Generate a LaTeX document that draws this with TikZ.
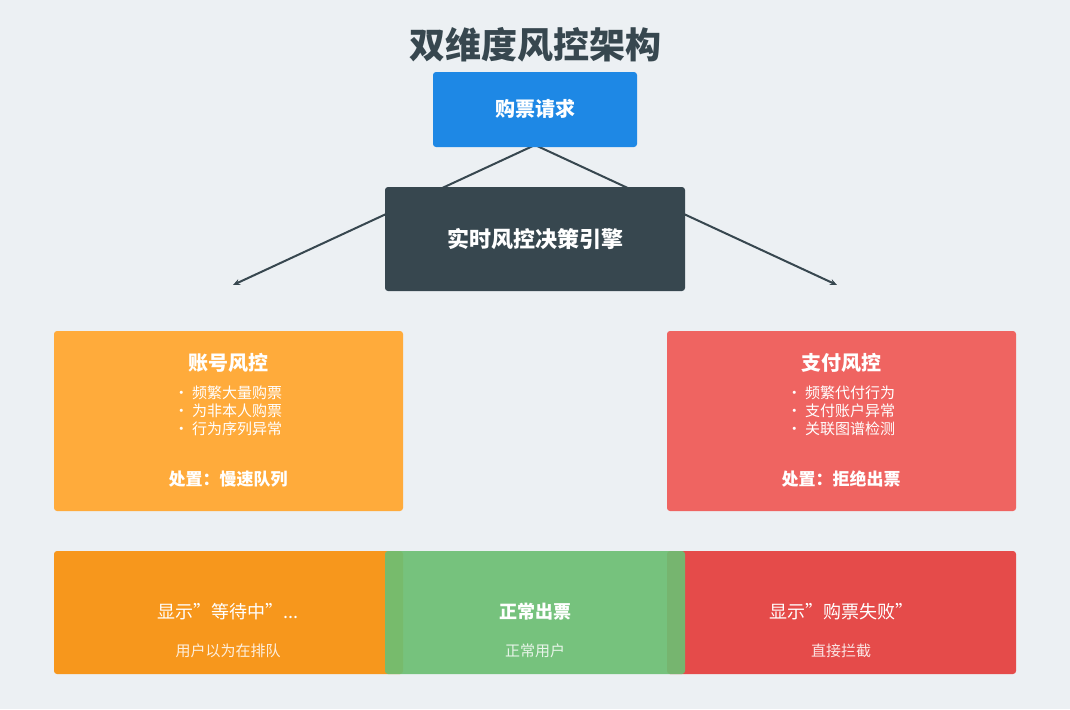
\documentclass[tikz,border=0pt]{standalone}
\usepackage{fontspec}
\setmainfont{Noto Sans CJK SC}
\usetikzlibrary{arrows.meta}
\definecolor{bg}{HTML}{ECF0F3}
\definecolor{dark}{HTML}{37474F}
\definecolor{blue1}{HTML}{1E88E5}
\definecolor{org}{HTML}{FFAB3B}
\definecolor{redl}{HTML}{EF6461}
\definecolor{org2}{HTML}{F7971C}
\definecolor{grn}{HTML}{6DBF73}
\definecolor{red2}{HTML}{E54B4A}
\begin{document}
\begin{tikzpicture}[x=1pt,y=-1pt,
  box/.style={rounded corners=3pt},
  wt/.style={text=white,font=\bfseries\fontsize{#1}{#1}\selectfont},
  lt/.style={text=white,font=\fontsize{#1}{#1}\selectfont},
  arr/.style={draw=dark,line width=2pt,-{Stealth[length=7pt,width=6pt]}}]
\fill[bg] (0,0) rectangle (1070,709);
\useasboundingbox (0,0) rectangle (1070,709);
\node[text=dark,font=\bfseries\fontsize{36}{36}\selectfont] (title) at (535,45) {双维度风控架构};
\coordinate (top) at (535,145);
\coordinate (la) at (233,285);
\coordinate (ra) at (837,285);
\draw[arr] (top) -- (la);
\draw[arr] (top) -- (ra);
\fill[box,blue1] (433,72) rectangle (637,147);
\node[wt=20] (req) at (535,109) {购票请求};
\fill[box,dark] (385,187) rectangle (685,291);
\node[wt=22] (eng) at (535,239) {实时风控决策引擎};
\fill[box,org] (54,331) rectangle (403,511);
\node[wt=20] (at) at (228,363) {账号风控};
\node[lt=15,align=center] (ab) at (228,411) {• 频繁大量购票\\[3pt]• 为非本人购票\\[3pt]• 行为序列异常};
\node[wt=17] (ad) at (228,479) {处置：慢速队列};
\fill[box,redl] (667,331) rectangle (1016,511);
\node[wt=20] (pt) at (841,363) {支付风控};
\node[lt=15,align=center] (pb) at (841,411) {• 频繁代付行为\\[3pt]• 支付账户异常\\[3pt]• 关联图谱检测};
\node[wt=17] (pd) at (841,479) {处置：拒绝出票};
\fill[box,org2] (54,551) rectangle (403,674);
\fill[box,red2] (667,551) rectangle (1016,674);
\fill[box,grn,opacity=0.92] (385,551) rectangle (685,674);
\node[lt=18] (o1) at (228,612) {显示"等待中"...};
\node[lt=15,text=white!85!org2] (o2) at (228,651) {用户以为在排队};
\node[wt=18] (g1) at (535,612) {正常出票};
\node[lt=15,text=white!85!grn] (g2) at (535,651) {正常用户};
\node[lt=18] (r1) at (841,612) {显示"购票失败"};
\node[lt=15,text=white!85!red2] (r2) at (841,651) {直接拦截};
\end{tikzpicture}
\end{document}
